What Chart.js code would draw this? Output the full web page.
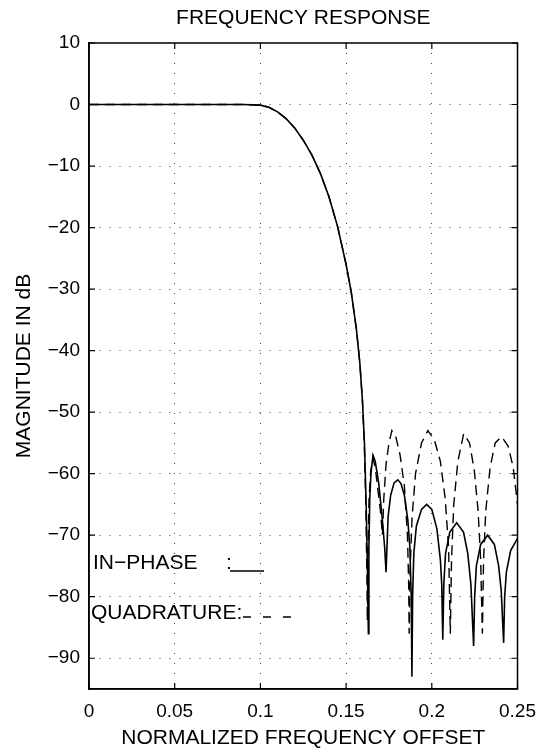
<!DOCTYPE html>
<html>
<head>
<meta charset="utf-8">
<script src="https://cdn.jsdelivr.net/npm/chart.js"></script>
<style>
  html, body { margin: 0; padding: 0; background: #fff; }
</style>
</head>
<body>
<canvas id="myChart" width="547" height="751"></canvas>
<script>
// valeurs (frequence normalisee / dB)
const xTicks = [0, 0.05, 0.1, 0.15, 0.2, 0.25]
const xTickLabels = ["0", "0.05", "0.1", "0.15", "0.2", "0.25"]
const yTicks = [10, 0, -10, -20, -30, -40, -50, -60, -70, -80, -90]

const inPhaseFreq = [0, 0.05, 0.09, 0.1, 0.105, 0.11, 0.115, 0.12, 0.125, 0.13, 0.135, 0.14, 0.145, 0.15, 0.153, 0.156, 0.158, 0.1595, 0.1607, 0.1617, 0.1624, 0.163,
    0.1633, 0.1638, 0.1645, 0.1657, 0.167, 0.169, 0.171, 0.1725, 0.1733,
    0.1745, 0.176, 0.178, 0.1802, 0.182, 0.184, 0.186, 0.1872, 0.188, 0.1884,
    0.1888, 0.1895, 0.191, 0.194, 0.197, 0.2, 0.203, 0.205, 0.2058, 0.2064,
    0.207, 0.208, 0.2105, 0.2145, 0.2185, 0.221, 0.2228, 0.2244,
    0.225, 0.226, 0.2285, 0.2326, 0.2365, 0.239, 0.2405, 0.2419,
    0.2425, 0.2435, 0.246, 0.25]
const inPhaseDb = [0, 0, 0, -0.1, -0.45, -1.2, -2.3, -3.8, -5.8, -8.2, -11.2, -15, -19.8, -26, -30.5, -36.5, -42, -48, -55, -65, -75, -86,
    -72, -64, -60, -57, -58, -61.5, -67, -72, -76,
    -67, -63.5, -61.5, -61, -61.6, -63.5, -67.5, -72, -80, -93,
    -80, -73, -68.5, -65.8, -65, -65.8, -69, -74, -78, -87,
    -78, -73, -69.5, -68, -69.5, -73, -78, -88,
    -80, -75, -71.5, -70, -71.5, -75, -79, -87.5,
    -80, -76, -72.5, -70.5]

const quadFreq = [0, 0.05, 0.09, 0.1, 0.105, 0.11, 0.115, 0.12, 0.125, 0.13, 0.135, 0.14, 0.145, 0.15, 0.153, 0.156, 0.158, 0.1595, 0.1606, 0.1615, 0.1621, 0.1624,
    0.1628, 0.1634, 0.1644, 0.1657, 0.167, 0.1685, 0.17, 0.1712,
    0.172, 0.1733, 0.175, 0.1767, 0.179, 0.1815, 0.184, 0.1858, 0.1865, 0.1868,
    0.1873, 0.1885, 0.1905, 0.194, 0.1977, 0.2015, 0.205, 0.2078, 0.2098, 0.2108,
    0.2115, 0.2128, 0.2152, 0.2186, 0.222, 0.2248, 0.227, 0.2285, 0.2295,
    0.2302, 0.2315, 0.234, 0.237, 0.2407, 0.2445, 0.2475, 0.25]
const quadDb = [0, 0, 0, -0.1, -0.45, -1.2, -2.3, -3.8, -5.8, -8.2, -11.2, -15, -19.8, -26, -30.5, -36.5, -42, -48, -55, -65, -76, -84,
    -72, -64, -59.5, -57.5, -59, -62.5, -66, -70,
    -64, -58.5, -55, -53, -54, -57, -62, -70, -78, -86,
    -76, -67, -60, -55, -53, -54.5, -58, -64, -72, -86,
    -74, -65, -58, -53.5, -55, -59.5, -66, -74, -86,
    -74, -66, -59, -55, -54, -55.5, -59, -65]

const police = "'Liberation Sans', Arial, sans-serif"
const minus = v => v < 0 ? "\u2212" + Math.abs(v) : String(v)

// cadre, graduations vers l'interieur, titre et legende ecrite a la main
const cadre = {
    id: "cadre",
    afterDraw(chart) {
        const ctx = chart.ctx
        const a = chart.chartArea
        const sx = chart.scales.x
        const sy = chart.scales.y
        ctx.save()
        ctx.strokeStyle = "#000"
        ctx.lineWidth = 1.5
        ctx.strokeRect(a.left, a.top, a.right - a.left, a.bottom - a.top)
        ctx.lineWidth = 1.2
        ctx.beginPath()
        xTicks.forEach(v => {
            const px = sx.getPixelForValue(v)
            ctx.moveTo(px, a.bottom); ctx.lineTo(px, a.bottom - 6)
            ctx.moveTo(px, a.top); ctx.lineTo(px, a.top + 6)
        })
        yTicks.forEach(v => {
            const py = sy.getPixelForValue(v)
            ctx.moveTo(a.left, py); ctx.lineTo(a.left + 6, py)
            ctx.moveTo(a.right, py); ctx.lineTo(a.right - 6, py)
        })
        ctx.stroke()

        ctx.fillStyle = "#000"
        ctx.font = "21px " + police
        ctx.textAlign = "center"
        ctx.textBaseline = "middle"
        ctx.fillText("FREQUENCY RESPONSE", (a.left + a.right) / 2, 18)

        ctx.textAlign = "left"
        ctx.fillText("IN\u2212PHASE", 93, 563)
        ctx.fillText(":", 226, 563)
        ctx.fillText("QUADRATURE:", 91, 613)
        ctx.lineWidth = 1.6
        ctx.beginPath()
        ctx.moveTo(230, 571); ctx.lineTo(264, 571)
        ctx.stroke()
        ctx.setLineDash([8, 12])
        ctx.beginPath()
        ctx.moveTo(243, 617); ctx.lineTo(292, 617)
        ctx.stroke()
        ctx.restore()
    }
}

const grille = {
    display: true,
    drawTicks: false,
    color: "#444",
    lineWidth: 1
}

const data = {
    datasets: [
        {
            label: "IN-PHASE",
            data: inPhaseFreq.map((f, i) => ({ x: f, y: inPhaseDb[i] })),
            borderColor: "#000",
            borderWidth: 1.6,
            pointRadius: 0,
            tension: 0
        },
        {
            label: "QUADRATURE",
            data: quadFreq.map((f, i) => ({ x: f, y: quadDb[i] })),
            borderColor: "#000",
            borderWidth: 1.4,
            borderDash: [10, 6],
            pointRadius: 0,
            tension: 0
        }
    ]
}

const config = {
    type: "line",
    data: data,
    options: {
        responsive: false,
        animation: false,
        layout: { padding: { top: 43, right: 28, left: 0, bottom: 0 } },
        plugins: {
            legend: { display: false },
            title: { display: false },
            tooltip: { enabled: false }
        },
        scales: {
            x: {
                type: "linear",
                min: 0,
                max: 0.25,
                afterBuildTicks: s => { s.ticks = xTicks.map(v => ({ value: v })) },
                afterFit: s => { s.height = 62 },
                ticks: {
                    padding: 11,
                    color: "#000",
                    font: { family: police, size: 19 },
                    callback: v => xTickLabels[xTicks.indexOf(v)]
                },
                grid: {
                    ...grille,
                    color: c => (c.tick && (c.tick.value === 0 || c.tick.value === 0.25)) ? "rgba(0,0,0,0)" : "#444"
                },
                border: { display: true, color: "#000", width: 1.5, dash: [1, 9] },
                title: {
                    display: true,
                    text: "NORMALIZED FREQUENCY OFFSET",
                    color: "#000",
                    font: { family: police, size: 21 },
                    padding: { top: 0, bottom: 0 }
                }
            },
            y: {
                min: -95,
                max: 10,
                afterBuildTicks: s => { s.ticks = yTicks.map(v => ({ value: v })) },
                afterFit: s => { s.width = 89 },
                ticks: {
                    padding: 9,
                    color: "#000",
                    font: { family: police, size: 19 },
                    callback: v => minus(v)
                },
                grid: {
                    ...grille,
                    color: c => (c.tick && c.tick.value === 10) ? "rgba(0,0,0,0)" : "#444"
                },
                border: { display: true, color: "#000", width: 1.5, dash: [1, 9] },
                title: {
                    display: true,
                    text: "MAGNITUDE IN dB",
                    color: "#000",
                    font: { family: police, size: 21 },
                    padding: { top: 12, bottom: 0 }
                }
            }
        }
    },
    plugins: [cadre]
}

new Chart(document.querySelector("#myChart"), config)
</script>
</body>
</html>
